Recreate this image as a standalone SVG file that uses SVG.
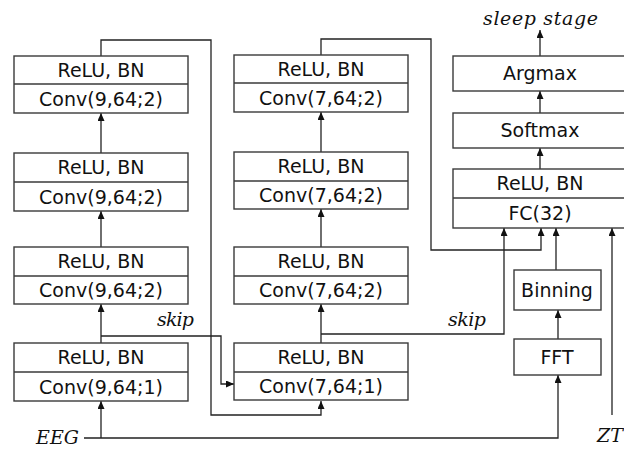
<svg xmlns="http://www.w3.org/2000/svg" width="624" height="449" viewBox="0 0 624 449">
<style>
.box{fill:#fff;stroke:#3a3a3a;stroke-width:1.4}
.sep{stroke:#3a3a3a;stroke-width:1.4}
.t{font-family:"DejaVu Sans","Liberation Sans",sans-serif;font-size:19px;fill:#111;text-anchor:middle}
.m{font-family:"DejaVu Serif","Liberation Serif",serif;font-style:italic;font-size:19px;fill:#111}
.c{fill:none;stroke:#222;stroke-width:1.3}
</style>
<defs>
<marker id="ah" markerUnits="userSpaceOnUse" markerWidth="9" markerHeight="8" refX="8" refY="3.5" orient="auto">
<path d="M0,0 L8,3.5 L0,7 z" fill="#111"/>
</marker>
</defs>
<rect width="624" height="449" fill="#fff"/>
<g id="connectors">
<path class="c" d="M101,438 V401" marker-end="url(#ah)"/>
<path class="c" d="M101,343 V304" marker-end="url(#ah)"/>
<path class="c" d="M101,247 V211" marker-end="url(#ah)"/>
<path class="c" d="M101,153 V113" marker-end="url(#ah)"/>
<path class="c" d="M101,56 V40 H211 V415 H321 V401" marker-end="url(#ah)"/>
<path class="c" d="M101,336 H221 V384 H234" marker-end="url(#ah)"/>
<path class="c" d="M321,343 V304" marker-end="url(#ah)"/>
<path class="c" d="M321,247 V209" marker-end="url(#ah)"/>
<path class="c" d="M321,152 V112" marker-end="url(#ah)"/>
<path class="c" d="M321,55 V39 H431 V250 H541 V228" marker-end="url(#ah)"/>
<path class="c" d="M321,334 H504 V228" marker-end="url(#ah)"/>
<path class="c" d="M84,438 H558 V375" marker-end="url(#ah)"/>
<path class="c" d="M558,339 V310" marker-end="url(#ah)"/>
<path class="c" d="M556,270 V228" marker-end="url(#ah)"/>
<path class="c" d="M612,415 V228" marker-end="url(#ah)"/>
<path class="c" d="M540,169 V148" marker-end="url(#ah)"/>
<path class="c" d="M540,113 V91" marker-end="url(#ah)"/>
<path class="c" d="M540,56 V30" marker-end="url(#ah)"/>
</g>
<g id="L1"><rect class="box" x="14" y="56" width="174" height="57"/><line class="sep" x1="14" y1="84" x2="188" y2="84"/><text class="t" x="101" y="77">ReLU, BN</text><text class="t" x="101" y="106">Conv(9,64;2)</text></g>
<g id="L2"><rect class="box" x="14" y="153" width="174" height="58"/><line class="sep" x1="14" y1="182" x2="188" y2="182"/><text class="t" x="101" y="174">ReLU, BN</text><text class="t" x="101" y="204">Conv(9,64;2)</text></g>
<g id="L3"><rect class="box" x="14" y="247" width="174" height="57"/><line class="sep" x1="14" y1="276" x2="188" y2="276"/><text class="t" x="101" y="268">ReLU, BN</text><text class="t" x="101" y="297">Conv(9,64;2)</text></g>
<g id="L4"><rect class="box" x="14" y="343" width="174" height="58"/><line class="sep" x1="14" y1="372" x2="188" y2="372"/><text class="t" x="101" y="364">ReLU, BN</text><text class="t" x="101" y="394">Conv(9,64;1)</text></g>
<g id="M1"><rect class="box" x="234" y="55" width="174" height="57"/><line class="sep" x1="234" y1="83" x2="408" y2="83"/><text class="t" x="321" y="76">ReLU, BN</text><text class="t" x="321" y="105">Conv(7,64;2)</text></g>
<g id="M2"><rect class="box" x="234" y="152" width="174" height="57"/><line class="sep" x1="234" y1="181" x2="408" y2="181"/><text class="t" x="321" y="173">ReLU, BN</text><text class="t" x="321" y="202">Conv(7,64;2)</text></g>
<g id="M3"><rect class="box" x="234" y="247" width="174" height="57"/><line class="sep" x1="234" y1="276" x2="408" y2="276"/><text class="t" x="321" y="268">ReLU, BN</text><text class="t" x="321" y="297">Conv(7,64;2)</text></g>
<g id="M4"><rect class="box" x="234" y="343" width="174" height="57"/><line class="sep" x1="234" y1="372" x2="408" y2="372"/><text class="t" x="321" y="364">ReLU, BN</text><text class="t" x="321" y="393">Conv(7,64;1)</text></g>
<g id="argmax"><rect class="box" x="453" y="56" width="180" height="35"/><text class="t" x="540" y="80">Argmax</text></g>
<g id="softmax"><rect class="box" x="453" y="113" width="180" height="35"/><text class="t" x="540" y="137">Softmax</text></g>
<g id="fc"><rect class="box" x="453" y="169" width="180" height="59"/><line class="sep" x1="453" y1="198" x2="633" y2="198"/><text class="t" x="540" y="190">ReLU, BN</text><text class="t" x="540" y="220">FC(32)</text></g>
<g id="binning"><rect class="box" x="514" y="270" width="87" height="40"/><text class="t" x="557" y="297">Binning</text></g>
<g id="fft"><rect class="box" x="514" y="339" width="87" height="36"/><text class="t" x="557" y="364">FFT</text></g>
<g id="labels">
<text class="m" x="483" y="25" textLength="115">sleep stage</text>
<text class="m" x="157" y="326" textLength="37">skip</text>
<text class="m" x="448" y="326" textLength="38">skip</text>
<text class="m" x="36" y="444" textLength="43">EEG</text>
<text class="m" x="597" y="442">ZT</text>
</g>
</svg>
